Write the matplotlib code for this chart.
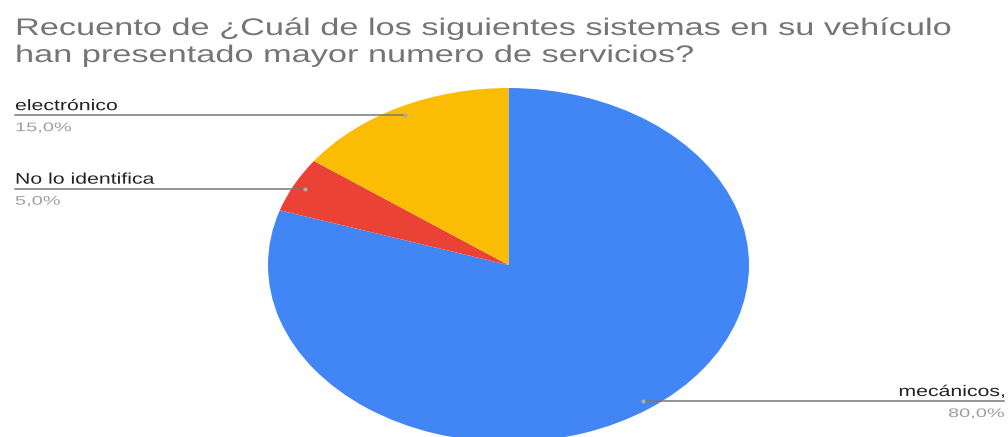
import numpy as np
import matplotlib
matplotlib.use("Agg")
import matplotlib.pyplot as plt
from matplotlib.textpath import TextPath
from matplotlib.font_manager import FontProperties
from matplotlib.patches import PathPatch
from matplotlib.transforms import Affine2D

# Datos de la encuesta
categorias = ["mecánicos,", "No lo identifica", "electrónico"]
porcentajes = [80.0, 5.0, 15.0]
colores = ["#4285F4", "#EA4335", "#FBBC04"]
titulo = ["Recuento de ¿Cuál de los siguientes sistemas en su vehículo",
          "han presentado mayor numero de servicios?"]

W, H = 1008, 437
fig = plt.figure(figsize=(W / 100, H / 100), dpi=100)
fuente = FontProperties(family="Liberation Sans")

# Capa superior en pixeles para textos y lineas guia
over = fig.add_axes([0, 0, 1, 1], zorder=2)
over.set_xlim(0, W)
over.set_ylim(H, 0)
over.axis("off")


def texto_ancho(x, y, s, size_px, sx, color, ha="left"):
    # texto como trazo, ensanchado en horizontal; y es la linea base
    tp = TextPath((0, 0), s, size=size_px, prop=fuente)
    ancho = tp.get_extents().x1 * sx
    x0 = x - ancho if ha == "right" else x
    tr = Affine2D().scale(sx, -1).translate(x0, y) + over.transData
    over.add_patch(PathPatch(tp, transform=tr, fc=color, ec="none", lw=0))


# Pastel eliptico (ejes con aspecto libre)
ax = fig.add_axes([268 / W, (H - 442) / H, 481 / W, 354 / H], zorder=1)
wedges, _ = ax.pie(porcentajes, colors=colores, startangle=90, counterclock=False,
                   radius=1.0, wedgeprops=dict(linewidth=0))
ax.set_aspect("auto")
ax.set_xlim(-1, 1)
ax.set_ylim(-1, 1)
ax.axis("off")
for w in wedges:
    w.set_clip_on(False)

texto_ancho(15, 35, titulo[0], 24, 1.43, "#757575")
texto_ancho(15, 62, titulo[1], 24, 1.43, "#757575")

# Posiciones de las etiquetas (x del texto, lado)
etiquetas = {"electrónico": (15, "left"), "No lo identifica": (15, "left"),
             "mecánicos,": (1004, "right")}

inicio = 90.0
for cat, pct in zip(categorias, porcentajes):
    ang = np.deg2rad(inicio - pct * 3.6 / 2)
    inicio -= pct * 3.6
    px, py = ax.transData.transform((0.95 * np.cos(ang), 0.95 * np.sin(ang)))
    py = H - py
    lx, ha = etiquetas[cat]
    over.plot([lx, px], [py, py], color="#777777", lw=1.1)
    over.plot(px, py, "o", ms=3, color="#aaaaaa", mec="none")
    texto_ancho(lx, py - 5, cat, 15.4, 1.38, "#222222", ha=ha)
    texto_ancho(lx, py + 16, f"{pct:.1f}%".replace(".", ","), 12.5, 1.6,
                "#a0a0a0", ha=ha)

fig.savefig("out.png", dpi=100)
